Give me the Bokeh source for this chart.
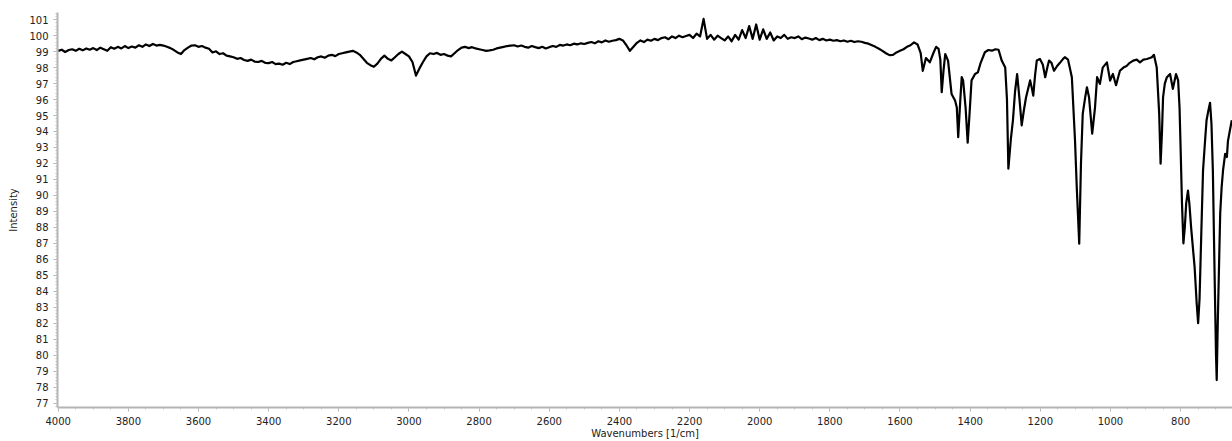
from bokeh.plotting import figure
from bokeh.models import Range1d, SingleIntervalTicker
from bokeh.embed import file_html
from bokeh.resources import INLINE

# ---- data (wavenumber [1/cm], intensity) ----
wn_a = [
    4000, 3990, 3980, 3970, 3960, 3950, 3940, 3930, 3920, 3910,
    3900, 3890, 3880, 3870, 3860, 3850, 3840, 3830, 3820, 3810,
    3800, 3790, 3780, 3770, 3760, 3750, 3740, 3730, 3720, 3710,
    3700, 3690, 3680, 3670, 3660, 3650, 3640, 3630, 3620, 3610,
    3600, 3590, 3580, 3570, 3560, 3550, 3540, 3530, 3520, 3510,
    3500, 3490, 3480, 3470, 3460, 3450, 3440, 3430, 3420, 3410,
    3400, 3390, 3380, 3370, 3360, 3350, 3340, 3330, 3320, 3310,
    3300, 3290, 3280, 3270, 3260, 3250, 3240, 3230, 3220, 3210,
    3200, 3190, 3180, 3170, 3160, 3150, 3140, 3130, 3120, 3110,
    3100, 3090, 3080, 3070, 3060, 3050, 3040, 3030, 3020, 3010,
    3000, 2990, 2980, 2970, 2960, 2950, 2940, 2930, 2920, 2910,
    2900, 2890, 2880, 2870, 2860, 2850, 2840, 2830, 2820, 2810,
    2800, 2790, 2780, 2770, 2760, 2750, 2740, 2730, 2720, 2710,
    2700, 2690, 2680, 2670, 2660, 2650, 2640, 2630, 2620, 2610,
    2600, 2590, 2580, 2570, 2560, 2550, 2540, 2530, 2520, 2510,
    2500, 2490, 2480, 2470, 2460, 2450, 2440, 2430, 2420, 2410,
    2400, 2390, 2380, 2370, 2360, 2350, 2340, 2330, 2320, 2310,
    2300, 2290, 2280, 2270, 2260, 2250, 2240, 2230, 2220, 2210,
    2200, 2190, 2180, 2170, 2160, 2150, 2140, 2130, 2120, 2110,
    2100, 2090, 2080, 2070, 2060, 2050, 2040, 2030, 2020, 2010,
    2000, 1990, 1980, 1970, 1960, 1950, 1940, 1930, 1920, 1910,
    1900, 1890, 1880, 1870, 1860, 1850, 1840, 1830, 1820, 1810,
    1800, 1790, 1780, 1770, 1760, 1750, 1740, 1730, 1720, 1710,
    1700, 1690, 1680, 1670, 1660, 1650, 1640, 1630, 1620, 1610,
]
int_a = [
    99.05, 99.12, 98.98, 99.10, 99.15, 99.05, 99.18, 99.08, 99.20, 99.12,
    99.22, 99.10, 99.25, 99.15, 99.05, 99.28, 99.18, 99.30, 99.20, 99.35,
    99.22, 99.32, 99.25, 99.40, 99.30, 99.45, 99.35, 99.48, 99.38, 99.42,
    99.38, 99.30, 99.22, 99.10, 98.95, 98.85, 99.10, 99.25, 99.38, 99.40,
    99.30, 99.35, 99.25, 99.18, 98.95, 99.02, 98.85, 98.90, 98.75, 98.70,
    98.65, 98.55, 98.60, 98.48, 98.42, 98.50, 98.38, 98.35, 98.42, 98.30,
    98.28, 98.35, 98.22, 98.25, 98.18, 98.30, 98.22, 98.35, 98.40, 98.45,
    98.50, 98.55, 98.60, 98.52, 98.65, 98.70, 98.62, 98.75, 98.80, 98.72,
    98.85, 98.90, 98.95, 99.00, 99.05, 98.95, 98.80, 98.55, 98.30, 98.15,
    98.05, 98.25, 98.55, 98.75, 98.55, 98.45, 98.65, 98.85, 99.00, 98.85,
    98.70, 98.35, 97.50, 97.95, 98.35, 98.70, 98.90, 98.85, 98.92, 98.80,
    98.85, 98.75, 98.70, 98.90, 99.10, 99.25, 99.30, 99.22, 99.28, 99.20,
    99.15, 99.10, 99.05, 99.08, 99.12, 99.20, 99.25, 99.30, 99.35, 99.38,
    99.40, 99.32, 99.38, 99.30, 99.25, 99.35, 99.28, 99.22, 99.30, 99.20,
    99.28, 99.35, 99.30, 99.42, 99.38, 99.45, 99.40, 99.50, 99.45, 99.52,
    99.48, 99.55, 99.60, 99.52, 99.65, 99.58, 99.70, 99.62, 99.68, 99.72,
    99.80, 99.70, 99.40, 99.05, 99.30, 99.55, 99.70, 99.60, 99.75, 99.68,
    99.80, 99.72, 99.85, 99.90, 99.78, 99.95, 99.85, 100.00, 99.90, 99.98,
    100.05, 99.85, 100.12, 99.95, 101.05, 99.80, 100.05, 99.75, 100.00, 99.85,
    99.70, 99.95, 99.65, 100.05, 99.75, 100.35, 99.85, 100.60, 99.80, 100.70,
    99.75, 100.40, 99.80, 100.20, 99.70, 99.95, 99.85, 100.05, 99.80, 99.90,
    99.85, 99.95, 99.78, 99.88, 99.82, 99.75, 99.85, 99.72, 99.80, 99.70,
    99.75, 99.68, 99.72, 99.65, 99.70, 99.62, 99.68, 99.60, 99.65, 99.62,
    99.55, 99.50, 99.40, 99.30, 99.18, 99.05, 98.90, 98.78, 98.80, 98.95,
]
wn_b = [
    1600, 1590, 1580, 1570, 1560, 1550, 1541, 1535, 1526, 1515,
    1505, 1497, 1490, 1485, 1481, 1476, 1471, 1463, 1453, 1443,
    1438, 1434, 1428, 1424, 1420, 1413, 1407, 1402, 1396, 1386,
    1378, 1370, 1358, 1348, 1338, 1328, 1319, 1310, 1300, 1295,
    1291, 1284, 1278, 1272, 1266, 1260, 1253, 1247, 1241, 1229,
    1224, 1220, 1215, 1210, 1201, 1193, 1186, 1180, 1175, 1168,
    1161, 1152, 1144, 1135, 1130, 1121, 1116, 1110, 1101, 1096,
    1089, 1084, 1079, 1072, 1067, 1061, 1052, 1044, 1038, 1030,
    1022, 1010, 1001, 993, 984, 973, 963, 954, 945, 935,
    925, 916, 906, 896, 888, 882, 876, 868, 861, 857,
    853, 850, 845, 839, 830, 822, 813, 807, 803, 800,
    796, 792, 788, 784, 779, 775, 770, 760, 754, 750,
    746, 740, 736, 730, 726, 720, 716, 712, 708, 703,
    699, 697, 694, 689, 687, 683, 679, 673, 668, 665,
    660, 654,
]
int_b = [
    99.05, 99.15, 99.30, 99.40, 99.58, 99.45, 98.90, 97.80, 98.60, 98.33,
    98.90, 99.30, 99.17, 98.50, 96.46, 97.80, 98.85, 98.44, 96.35, 95.94,
    95.50, 93.64, 96.00, 97.40, 97.20, 95.50, 93.30, 95.00, 97.20, 97.60,
    97.70, 98.30, 98.96, 99.10, 99.06, 99.15, 99.12, 98.44, 98.00, 96.00,
    91.67, 93.50, 94.70, 96.50, 97.60, 96.20, 94.38, 95.30, 96.10, 97.20,
    96.70, 96.25, 97.50, 98.44, 98.54, 98.20, 97.40, 98.00, 98.44, 98.30,
    97.80, 98.10, 98.30, 98.55, 98.65, 98.50, 98.00, 97.40, 93.44, 90.50,
    86.98, 92.00, 95.10, 96.14, 96.77, 96.14, 93.86, 95.50, 97.40, 96.98,
    98.00, 98.33, 97.19, 97.60, 96.90, 97.80, 98.00, 98.10, 98.30, 98.44,
    98.50, 98.33, 98.50, 98.54, 98.60, 98.65, 98.80, 98.00, 95.10, 91.98,
    94.00, 96.14, 97.00, 97.40, 97.60, 96.67, 97.60, 97.20, 95.50, 93.00,
    89.50, 87.00, 88.00, 89.50, 90.30, 89.50, 88.00, 85.50, 83.20, 82.00,
    83.50, 88.40, 91.56, 93.50, 94.70, 95.40, 95.80, 94.50, 91.56, 85.00,
    80.00, 78.44, 82.00, 87.00, 88.90, 90.50, 91.56, 92.60, 92.40, 93.40,
    94.00, 94.70,
]
wavenumbers = wn_a + wn_b
intensity = int_a + int_b

x_title = "Wavenumbers [1/cm]"
y_title = "Intensity"

p = figure(
    width=1232, height=441,
    output_backend="svg", toolbar_location=None,
    x_range=Range1d(4002, 652), y_range=Range1d(76.72, 101.45),
    min_border_left=57, min_border_right=0, min_border_top=12, min_border_bottom=34,
    background_fill_color="white", border_fill_color="white",
)
p.outline_line_color = None
p.xgrid.visible = False
p.ygrid.visible = False

p.line(wavenumbers, intensity, line_color="black", line_width=2.2, line_join="round")

p.xaxis.ticker = SingleIntervalTicker(interval=200, num_minor_ticks=4)
p.yaxis.ticker = SingleIntervalTicker(interval=1, num_minor_ticks=5)
p.xaxis.axis_label = x_title
p.yaxis.axis_label = y_title

for ax in (p.xaxis[0], p.yaxis[0]):
    ax.axis_line_color = "#b4b4b4"
    ax.axis_line_width = 2
    ax.major_tick_line_color = "#b4b4b4"
    ax.minor_tick_line_color = "#c0c0c0"
    ax.major_tick_out = 4
    ax.major_tick_in = 0
    ax.minor_tick_out = 2
    ax.minor_tick_in = 0
    ax.major_label_text_font = "DejaVu Sans"
    ax.major_label_text_font_size = "10px"
    ax.major_label_text_color = "#222222"
    ax.axis_label_text_font = "DejaVu Sans"
    ax.axis_label_text_font_size = "10px"
    ax.axis_label_text_font_style = "normal"
    ax.axis_label_text_color = "#222222"
    ax.major_label_standoff = 5
p.xaxis.axis_label_standoff = 0
p.yaxis.axis_label_standoff = 7

open("out.html", "w").write(file_html(p, INLINE))
